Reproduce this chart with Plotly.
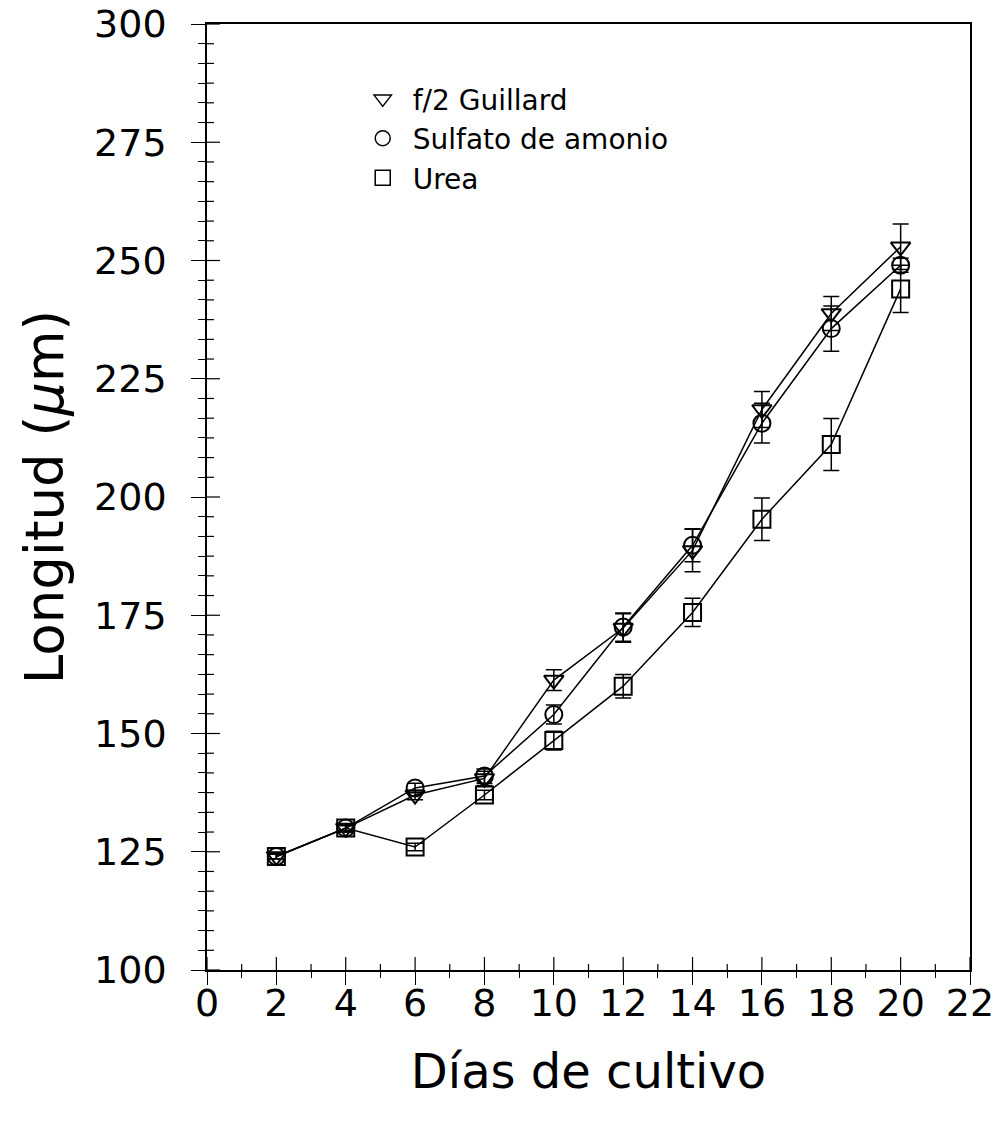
import plotly.graph_objects as go

# ---- data ----
dias = [2, 4, 6, 8, 10, 12, 14, 16, 18, 20]

f2_guillard = [124, 130, 137, 140.5, 161.3, 172.3, 188.7, 218.5, 238.8, 252.9]
f2_err = [0.5, 0.8, 1.0, 1.5, 2.2, 3.0, 4.5, 3.8, 3.6, 4.8]

sulfato = [124, 130, 138.5, 141, 154, 172.5, 189.8, 215.6, 235.6, 249]
sulfato_err = [0.5, 0.8, 1.0, 1.5, 2.0, 3.0, 3.5, 4.2, 4.8, 1.5]

urea = [124, 130, 126, 137, 148.5, 160, 175.6, 195.3, 211.1, 244]
urea_err = [0.5, 0.5, 0.8, 1.0, 2.0, 2.5, 3.0, 4.5, 5.5, 5.0]

series_names = ["f/2 Guillard", "Sulfato de amonio", "Urea"]
x_ticks = [0, 2, 4, 6, 8, 10, 12, 14, 16, 18, 20, 22]
y_ticks = [100, 125, 150, 175, 200, 225, 250, 275, 300]
x_minor_step = 1
y_minor_step = 25 / 6

X_RANGE = [x_ticks[0], x_ticks[-1]]
Y_RANGE = [y_ticks[0], y_ticks[-1]]

FONT = "DejaVu Sans"
series = [
    (series_names[0], f2_guillard, f2_err, "triangle-down-open"),
    (series_names[1], sulfato, sulfato_err, "circle-open"),
    (series_names[2], urea, urea_err, "square-open"),
]

fig = go.Figure()
for name, vals, err, sym in series:
    fig.add_trace(go.Scatter(
        x=dias, y=vals, mode="lines+markers", name=name, showlegend=False,
        line=dict(color="black", width=1.5),
        marker=dict(symbol=sym, size=17, color="black", line=dict(width=2, color="black")),
        error_y=dict(type="data", array=err, visible=True, color="black",
                     thickness=1.5, width=8),
    ))
for name, vals, err, sym in series:
    fig.add_trace(go.Scatter(
        x=[None], y=[None], mode="markers", name=name, showlegend=True,
        marker=dict(symbol=sym, size=15, color="black", line=dict(width=1.5, color="black")),
    ))

# inner halves of the crossing tick marks (outer halves come from the axes)
TICK_W = 1.2
n_xminor = int(round((X_RANGE[1] - X_RANGE[0]) / x_minor_step))
for i in range(n_xminor + 1):
    xv = X_RANGE[0] + i * x_minor_step
    ln = 13 if xv in x_ticks else 6
    fig.add_shape(type="line", xref="x", yref="y", x0=xv, x1=xv,
                  ysizemode="pixel", yanchor=Y_RANGE[0], y0=0, y1=ln,
                  line=dict(color="black", width=TICK_W))
n_yminor = int(round((Y_RANGE[1] - Y_RANGE[0]) / y_minor_step))
for i in range(n_yminor + 1):
    yv = Y_RANGE[0] + i * y_minor_step
    ln = 13 if any(abs(yv - t) < 1e-6 for t in y_ticks) else 7
    fig.add_shape(type="line", xref="x", yref="y", y0=yv, y1=yv,
                  xsizemode="pixel", xanchor=X_RANGE[0], x0=0, x1=ln,
                  line=dict(color="black", width=TICK_W))

fig.update_layout(
    width=1004, height=1123,
    paper_bgcolor="white", plot_bgcolor="white",
    margin=dict(l=207, r=34, t=24, b=153),
    font=dict(family=FONT, color="black"),
    xaxis=dict(
        range=X_RANGE, tickvals=x_ticks, showgrid=False, zeroline=False,
        linecolor="black", linewidth=1.5, automargin=False,
        ticks="outside", ticklen=13, tickwidth=TICK_W, tickcolor="black", mirror=True,
        tickfont=dict(size=38, family=FONT), ticklabelstandoff=-14,
        ticklabeloverflow="allow",
        minor=dict(dtick=x_minor_step, tick0=0, ticks="outside", ticklen=6,
                   tickwidth=TICK_W, tickcolor="black"),
        title=dict(text="Días de cultivo", font=dict(size=48, family=FONT), standoff=30),
    ),
    yaxis=dict(
        range=Y_RANGE, tickvals=y_ticks, showgrid=False, zeroline=False,
        linecolor="black", linewidth=1.5, automargin=False,
        ticks="outside", ticklen=14, tickwidth=TICK_W, tickcolor="black", mirror=True,
        tickfont=dict(size=38, family=FONT), ticklabelstandoff=17,
        ticklabeloverflow="allow",
        minor=dict(dtick=y_minor_step, tick0=100, ticks="outside", ticklen=7,
                   tickwidth=TICK_W, tickcolor="black"),
        title=dict(text="Longitud (<i>μ</i>m)", font=dict(size=53, family=FONT), standoff=14),
    ),
    legend=dict(x=0.191, y=0.947, xanchor="left", yanchor="top",
                bgcolor="rgba(0,0,0,0)", font=dict(size=28, family=FONT),
                itemwidth=50),
)

fig.write_html("out.html", config={"displayModeBar": False},
               post_script="document.body.style.margin='0';")
